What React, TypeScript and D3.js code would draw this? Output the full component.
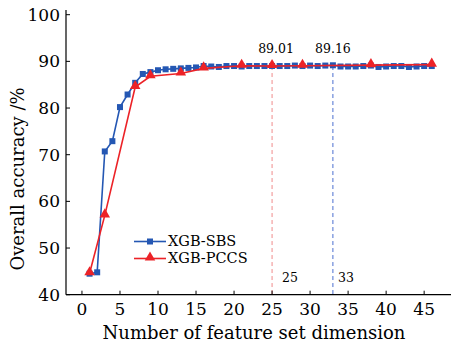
import React from 'react';
import * as d3 from 'd3';

const sbsDims = [1, 2, 3, 4, 5, 6, 7, 8, 9, 10, 11, 12, 13, 14, 15, 16, 17, 18, 19, 20, 21, 22, 23, 24, 25, 26, 27, 28, 29, 30, 31, 32, 33, 34, 35, 36, 37, 38, 39, 40, 41, 42, 43, 44, 45, 46];
const sbsAcc = [44.5, 44.8, 70.7, 72.9, 80.2, 82.9, 85.4, 87.3, 87.7, 88.1, 88.3, 88.4, 88.5, 88.6, 88.7, 89.0, 88.9, 88.8, 89.0, 89.0, 88.9, 89.0, 89.0, 89.0, 89.01, 89.0, 89.0, 89.1, 89.0, 89.1, 89.0, 89.1, 89.16, 88.9, 88.9, 88.9, 89.0, 89.1, 88.8, 88.9, 89.0, 89.0, 88.8, 88.9, 89.0, 89.0];
const pccsDims = [1, 3, 7, 9, 13, 16, 21, 25, 29, 38, 46];
const pccsAcc = [44.6, 57.0, 84.5, 86.8, 87.4, 88.5, 89.05, 89.01, 89.05, 89.2, 89.3];
const xTicks = [0, 5, 10, 15, 20, 25, 30, 35, 40, 45];
const yTicks = [40, 50, 60, 70, 80, 90, 100];
const marks = [
  { dim: 25, acc: '89.01', color: '#f08a8a', dx: 4, ldx: 18 },
  { dim: 33, acc: '89.16', color: '#4a6fd0', dx: 0, ldx: 13 },
];

const BLUE = '#2457b3';
const RED = '#ec2227';
const FONT = 'DejaVu Serif';

export default function App() {
  const width = 451;
  const height = 350;
  const left = 66;
  const bottom = 294.7;

  const x = d3.scaleLinear().domain([-2.1, 48.4]).range([left, 450]);
  const y = d3.scaleLinear().domain([40, 100]).range([bottom, 14.7]);

  const sbs = sbsDims.map((d, i) => [d, sbsAcc[i]] as [number, number]);
  const pccs = pccsDims.map((d, i) => [d, pccsAcc[i]] as [number, number]);
  const line = d3.line<[number, number]>().x(d => x(d[0])).y(d => y(d[1]));
  const tri = d3.symbol().type(d3.symbolTriangle).size(48)();

  return (
    <svg width={width} height={height} style={{ position: 'absolute', left: 0, top: 0, background: '#fff' }}>
      <g fontFamily={FONT}>
      {/* reference lines */}
      {marks.map(m => (
        <g key={m.dim}>
          <line x1={x(m.dim)} x2={x(m.dim)} y1={y(89.0)} y2={bottom} stroke={m.color} strokeWidth={1} strokeDasharray="4,3" />
          <text x={x(m.dim) + m.dx} y={53} textAnchor="middle" fontSize={12.5}>{m.acc}</text>
          <text x={x(m.dim) + m.ldx} y={282} textAnchor="middle" fontSize={12.5}>{m.dim}</text>
        </g>
      ))}

      {/* axes */}
      <line x1={left} x2={left} y1={10} y2={bottom} stroke="#000" strokeWidth={1.2} />
      <line x1={left} x2={451} y1={bottom} y2={bottom} stroke="#000" strokeWidth={1.2} />
      {yTicks.map(t => (
        <g key={t}>
          <line x1={left} x2={left + 4} y1={y(t)} y2={y(t)} stroke="#000" />
          <text x={left - 6} y={y(t) + 6} textAnchor="end" fontSize={17}>{t}</text>
        </g>
      ))}
      {xTicks.map(t => (
        <g key={t}>
          <line x1={x(t)} x2={x(t)} y1={bottom} y2={bottom - 4} stroke="#000" />
          <text x={x(t)} y={bottom + 20} textAnchor="middle" fontSize={17}>{t}</text>
        </g>
      ))}
      <text x={254} y={339} textAnchor="middle" fontSize={18}>Number of feature set dimension</text>
      <text transform={`translate(24,${179}) rotate(-90)`} textAnchor="middle" fontSize={18}>Overall accuracy /%</text>

      {/* series */}
      <path d={line(sbs) ?? ''} fill="none" stroke={BLUE} strokeWidth={1.6} />
      {sbs.map(d => (
        <rect key={d[0]} x={x(d[0]) - 3} y={y(d[1]) - 3} width={6} height={6} fill={BLUE} />
      ))}
      <path d={line(pccs) ?? ''} fill="none" stroke={RED} strokeWidth={1.6} />
      {pccs.map(d => (
        <path key={d[0]} d={tri ?? ''} transform={`translate(${x(d[0])},${y(d[1]) - 1})`} fill={RED} />
      ))}

      {/* legend */}
      <line x1={134} x2={166} y1={241.5} y2={241.5} stroke={BLUE} strokeWidth={1.6} />
      <rect x={147} y={238.5} width={6} height={6} fill={BLUE} />
      <text x={168} y={246} fontSize={14.5}>XGB-SBS</text>
      <line x1={134} x2={166} y1={258.5} y2={258.5} stroke={RED} strokeWidth={1.6} />
      <path d={tri ?? ''} transform={`translate(150,257.5)`} fill={RED} />
      <text x={168} y={263} fontSize={14.5}>XGB-PCCS</text>
      </g>
    </svg>
  );
}
